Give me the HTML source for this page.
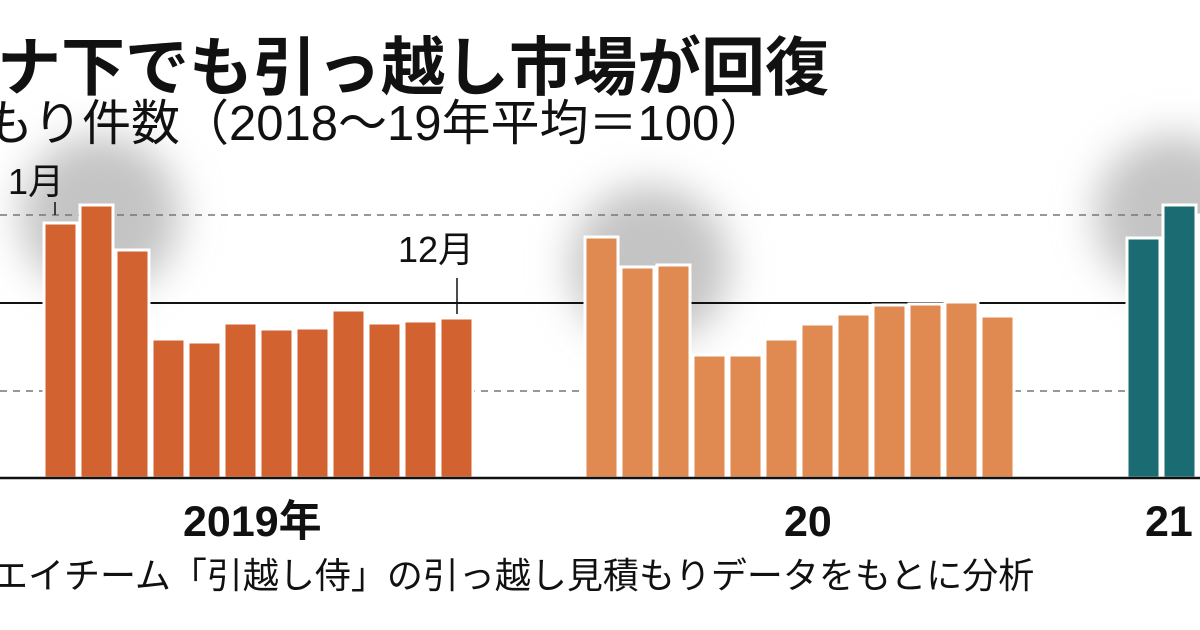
<!DOCTYPE html>
<html><head><meta charset="utf-8"><style>
html,body{margin:0;padding:0;background:#fff;width:1200px;height:630px;overflow:hidden;position:relative;font-family:"Liberation Sans","Noto Sans CJK JP",sans-serif;}
.t{position:absolute;white-space:nowrap;color:#111;}
</style></head><body>
<svg width="1200" height="630" style="position:absolute;left:0;top:0">
<defs>
<filter id="b" x="-50%" y="-50%" width="200%" height="200%"><feGaussianBlur stdDeviation="20"/></filter>
</defs>
<circle cx="100" cy="215" r="80" fill="#c4c4c4" filter="url(#b)"/>
<circle cx="650" cy="265" r="80" fill="#c4c4c4" filter="url(#b)"/>
<circle cx="1175" cy="215" r="80" fill="#c4c4c4" filter="url(#b)"/>
<line x1="0" y1="215" x2="1200" y2="215" stroke="#777" stroke-width="1.5" stroke-dasharray="7,6"/>
<line x1="0" y1="391" x2="1200" y2="391" stroke="#777" stroke-width="1.5" stroke-dasharray="7,6"/>
<line x1="0" y1="303" x2="1200" y2="303" stroke="#111" stroke-width="2"/>
<g stroke="#fff" stroke-width="3">
<g fill="#d2622f">
<rect x="44" y="223" width="33" height="255"/><rect x="80" y="205" width="33" height="273"/><rect x="116" y="250" width="33" height="228"/><rect x="152" y="339" width="33" height="139"/><rect x="188" y="342" width="33" height="136"/><rect x="224" y="323" width="33" height="155"/><rect x="260" y="329" width="33" height="149"/><rect x="296" y="328" width="33" height="150"/><rect x="332" y="310" width="33" height="168"/><rect x="368" y="323" width="33" height="155"/><rect x="404" y="321" width="33" height="157"/><rect x="440" y="318" width="33" height="160"/>
</g>
<g fill="#e08a52">
<rect x="585" y="237" width="33" height="241"/><rect x="621" y="267" width="33" height="211"/><rect x="657" y="265" width="33" height="213"/><rect x="693" y="355" width="33" height="123"/><rect x="729" y="355" width="33" height="123"/><rect x="765" y="339" width="33" height="139"/><rect x="801" y="324" width="33" height="154"/><rect x="837" y="314" width="33" height="164"/><rect x="873" y="305" width="33" height="173"/><rect x="909" y="304" width="33" height="174"/><rect x="945" y="302" width="33" height="176"/><rect x="981" y="316" width="33" height="162"/>
</g>
<g fill="#1a6b72">
<rect x="1127" y="238" width="33" height="240"/><rect x="1163" y="205" width="33" height="273"/><rect x="1199" y="215" width="33" height="263"/>
</g>
</g>
<line x1="0" y1="478" x2="1200" y2="478" stroke="#111" stroke-width="2.5"/>
<line x1="55" y1="202" x2="55" y2="215" stroke="#111" stroke-width="1.5"/>
<line x1="457" y1="278" x2="457" y2="314" stroke="#111" stroke-width="1.5"/>
</svg>
<div class="t" style="left:-3px;top:28px;font-size:64px;font-weight:bold;line-height:80px;">ナ下でも引っ越し市場が回復</div>
<div class="t" style="left:-16px;top:94px;font-size:49px;line-height:60px;">もり件数（2018～19年平均＝100）</div>
<div class="t" style="left:8px;top:160px;font-size:36px;line-height:44px;">1月</div>
<div class="t" style="left:398px;top:228px;font-size:36px;line-height:44px;">12月</div>
<div class="t" style="left:183px;top:497px;font-size:43px;font-weight:bold;line-height:50px;">2019年</div>
<div class="t" style="left:784px;top:497px;font-size:43px;font-weight:bold;line-height:50px;">20</div>
<div class="t" style="left:1145px;top:497px;font-size:43px;font-weight:bold;line-height:50px;">21</div>
<div class="t" style="left:-8px;top:554px;font-size:36px;line-height:44px;">エイチーム「引越し侍」の引っ越し見積もりデータをもとに分析</div>
</body></html>
